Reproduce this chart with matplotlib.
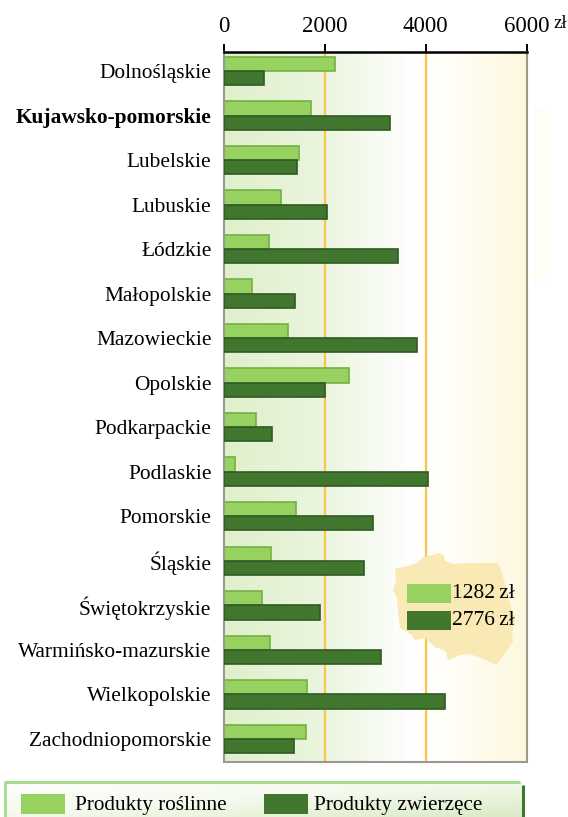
import numpy as np
import matplotlib
matplotlib.use("Agg")
import matplotlib.pyplot as plt
from matplotlib.colors import LinearSegmentedColormap
from matplotlib.patches import Polygon, Rectangle

regions = ["Dolnośląskie", "Kujawsko-pomorskie", "Lubelskie", "Lubuskie", "Łódzkie", "Małopolskie",
           "Mazowieckie", "Opolskie", "Podkarpackie", "Podlaskie", "Pomorskie", "Śląskie",
           "Świętokrzyskie", "Warmińsko-mazurskie", "Wielkopolskie", "Zachodniopomorskie"]
plant = [2207, 1730, 1490, 1130, 900, 560, 1270, 2470, 640, 220, 1430, 940, 760, 910, 1640, 1620]
animal = [800, 3300, 1450, 2050, 3460, 1410, 3820, 2010, 950, 4050, 2960, 2780, 1900, 3110, 4390, 1390]
xticks = [0, 2000, 4000, 6000]
legend_labels = ["Produkty roślinne", "Produkty zwierzęce"]
poland_labels = ["1282\u2009zł", "2776\u2009zł"]

W, H = 568, 817
plt.rcParams["font.family"] = ["Liberation Serif", "DejaVu Serif"]
fig = plt.figure(figsize=(W / 100, H / 100), dpi=100)
LIGHT, DARK = "#97D160", "#41762F"
LIGHT_E, DARK_E = "#74B044", "#2F5A25"

def px_axes(x0, y0, x1, y1, **kw):
    return fig.add_axes([x0 / W, 1 - y1 / H, (x1 - x0) / W, (y1 - y0) / H], **kw)

# overlay in pixel coordinates for decorations
bg = px_axes(0, 0, W, H, zorder=0)
bg.set_xlim(0, W); bg.set_ylim(H, 0); bg.axis("off")
bg.add_patch(Rectangle((533, 107), 17, 175, fc="#FEFDF6", ec="none"))

# legend band
band = LinearSegmentedColormap.from_list("b", ["#FFFFFF", "#F4F9EC", "#D9EBC6"])
grad = np.linspace(0, 1, 256).reshape(-1, 1)
leg = px_axes(6, 782, 522, 817, zorder=1)
leg.imshow(np.linspace(0, 1, 256).reshape(1, -1) * 0.5 + grad * 0.5, cmap=band, aspect="auto", vmin=0, vmax=1)
leg.axis("off")
bg.plot([5, 520], [781.5, 781.5], color="#A6DA8E", lw=2.2, solid_capstyle="butt")
bg.plot([5, 5], [781, 817], color="#A6DA8E", lw=2, solid_capstyle="butt")
bg.plot([523, 523], [785, 817], color="#41762F", lw=2.2, solid_capstyle="butt")
bg.set_zorder(2); bg.patch.set_alpha(0)

ax = px_axes(224, 52, 526.5, 762, zorder=3)
y = np.arange(len(regions))
h = 0.32
ylim = (15.52, -0.427)
cmap = LinearSegmentedColormap.from_list("g", [(0, "#DFF0CB"), (0.33, "#EBF5DE"), (0.62, "#FFFFFF"),
                                               (0.8, "#FFFDF3"), (1, "#FEF8DF")])
ax.imshow(np.linspace(0, 1, 256).reshape(1, -1), cmap=cmap, aspect="auto",
          extent=(0, 6000, ylim[0], ylim[1]), zorder=0)
for v in (2000, 4000):
    ax.axvline(v, color="#FBC44A", lw=1.6, zorder=1)
ax.barh(y - h / 2, plant, height=h, color=LIGHT, edgecolor=LIGHT_E, lw=1.2, zorder=2)
ax.barh(y + h / 2, animal, height=h, color=DARK, edgecolor=DARK_E, lw=1.2, zorder=3)
ax.set_xlim(0, 6000)
ax.set_ylim(*ylim)
ax.xaxis.tick_top()
ax.set_xticks(xticks)
ax.set_xticklabels([str(t) for t in xticks], fontsize=16.5)
ax.tick_params(axis="x", length=6, width=1.4, pad=5, color="black")
ax.set_yticks(y)
ax.set_yticklabels(regions, fontsize=15.4)
ax.tick_params(axis="y", length=0, pad=9)
ax.get_yticklabels()[1].set_fontweight("bold")
for s in ("left", "right", "bottom"):
    ax.spines[s].set_color("#999990"); ax.spines[s].set_linewidth(1.5)
ax.spines["top"].set_color("black"); ax.spines["top"].set_linewidth(1.8)

# overlay on top of the plot
ov = px_axes(0, 0, W, H, zorder=5)
ov.set_xlim(0, W); ov.set_ylim(H, 0); ov.axis("off"); ov.patch.set_alpha(0)
outline = [(395, 569), (408, 566), (417, 563), (422, 558), (432, 555), (440, 553), (444, 556), (445, 561),
           (453, 564), (470, 563), (498, 563), (501, 570), (503, 577), (506, 587), (508, 595), (512, 610),
           (515, 622), (512, 633), (513, 642), (505, 653), (497, 665), (483, 659), (470, 654), (460, 655),
           (448, 660), (446, 652), (443, 650), (435, 647), (425, 638), (415, 640), (412, 635), (400, 628),
           (398, 612), (397, 598), (393, 590), (396, 582)]
ov.add_patch(Polygon(outline, closed=True, fc="#F8E9B5", ec="none"))
ov.add_patch(Rectangle((407, 584), 44, 19, fc=LIGHT, ec="none"))
ov.add_patch(Rectangle((407, 611), 44, 19, fc=DARK, ec="none"))
ov.text(515, 593.5, poland_labels[0], fontsize=15.5, ha="right", va="center")
ov.text(515, 620.5, poland_labels[1], fontsize=15.5, ha="right", va="center")
ov.text(553, 23, "zł", fontsize=13.5, ha="left", va="center")
ov.add_patch(Rectangle((21, 794), 44, 20, fc=LIGHT, ec="none"))
ov.add_patch(Rectangle((264, 794), 44, 20, fc=DARK, ec="none"))
ov.text(75, 805.5, legend_labels[0], fontsize=15.3, ha="left", va="center")
ov.text(314, 805.5, legend_labels[1], fontsize=15.3, ha="left", va="center")

fig.savefig("out.png", dpi=100)
